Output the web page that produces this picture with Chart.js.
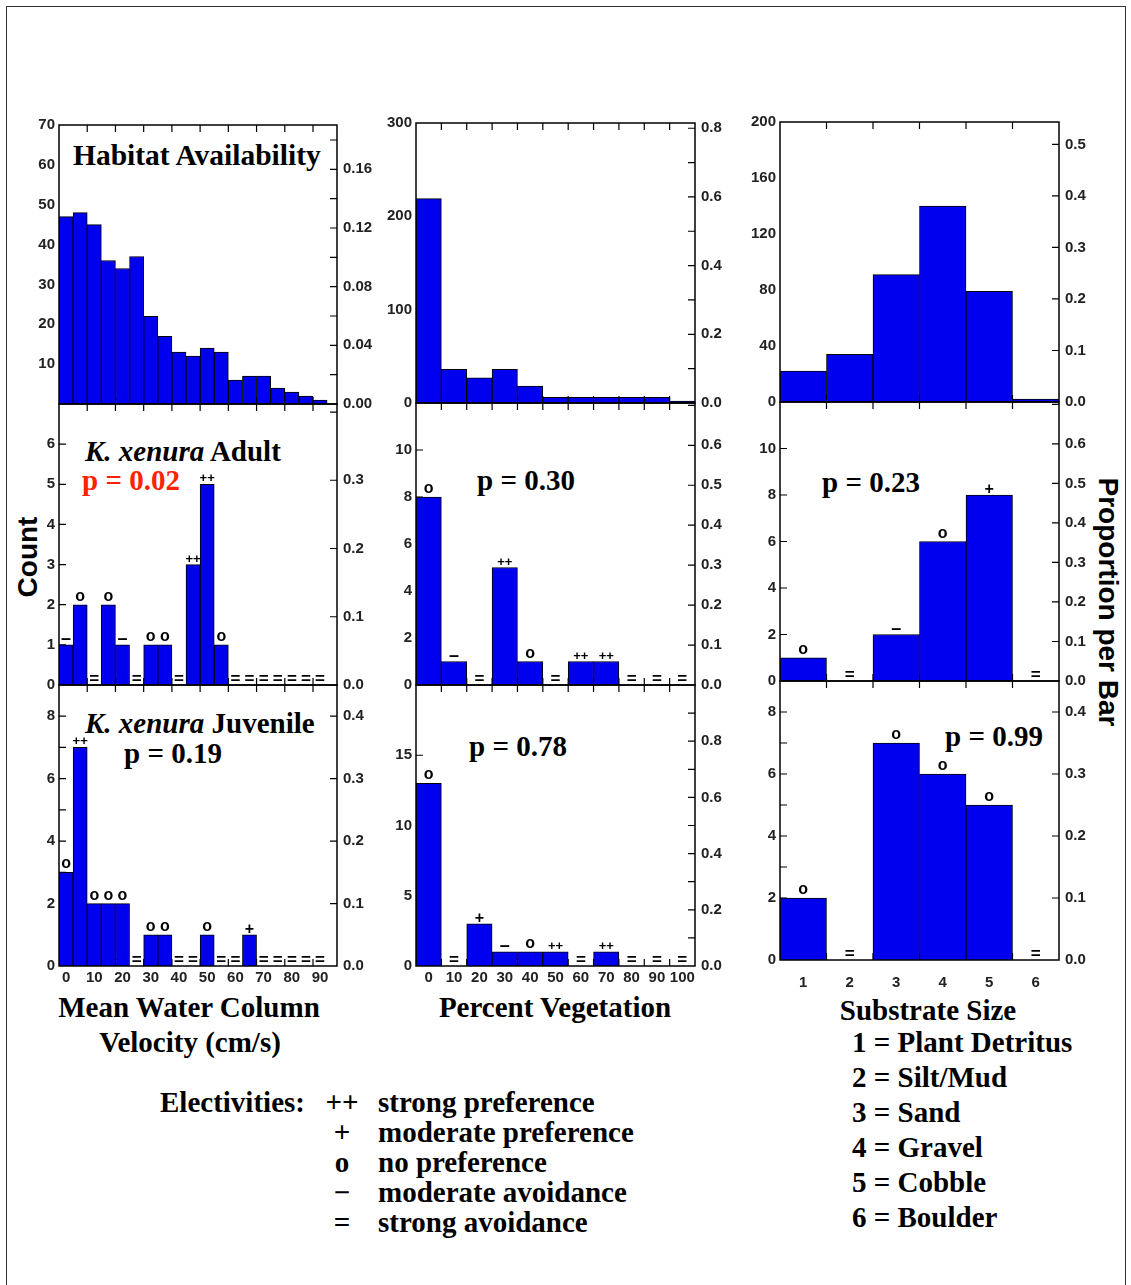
<!DOCTYPE html>
<html>
<head>
<meta charset="utf-8">
<title>Habitat availability and use</title>
<script src="https://cdn.jsdelivr.net/npm/chart.js@4.4.1/dist/chart.umd.min.js"></script>
<style>
  body { margin: 0; background: #fff; }
  #figure { position: relative; width: 1131px; height: 1285px; overflow: hidden; background: #fff; }
  #figure canvas { position: absolute; }
  .border { position: absolute; left: 6px; top: 6px; width: 1120px; height: 1320px; border: 1.5px solid #333; box-sizing: border-box; }
  .t { position: absolute; white-space: nowrap; font: bold 29px "Liberation Serif", "Times New Roman", serif; line-height: 1; color: #000; transform: translate(0, -50%); }
  .c { transform: translate(-50%, -50%); }
  .sans { font-family: "Liberation Sans", Arial, sans-serif; font-size: 28px; }
</style>
</head>
<body>
<div id="figure">
  <div class="border"></div>

  <div class="t" style="left:73px; top:156px; font-size:29.5px">Habitat Availability</div>
  <div class="t" style="left:85px; top:451px"><i>K. xenura</i> Adult</div>
  <div class="t" style="left:82px; top:480px; color:#ff2200">p = 0.02</div>
  <div class="t" style="left:85px; top:723px"><i>K. xenura</i> Juvenile</div>
  <div class="t" style="left:124px; top:753px">p = 0.19</div>
  <div class="t" style="left:477px; top:480px">p = 0.30</div>
  <div class="t" style="left:469px; top:746px">p = 0.78</div>
  <div class="t" style="left:822px; top:482px">p = 0.23</div>
  <div class="t" style="left:945px; top:736px">p = 0.99</div>

  <div class="t c sans" style="left:28px; top:557px; transform:translate(-50%,-50%) rotate(-90deg)">Count</div>
  <div class="t c sans" style="left:1108px; top:602px; transform:translate(-50%,-50%) rotate(90deg)">Proportion per Bar</div>

  <div class="t c" style="left:189px; top:1007px">Mean Water Column</div>
  <div class="t c" style="left:190px; top:1042px">Velocity (cm/s)</div>
  <div class="t c" style="left:555px; top:1007px">Percent Vegetation</div>
  <div class="t c" style="left:928px; top:1010px">Substrate Size</div>

  <div class="t" style="left:160px; top:1102px">Electivities:</div>
</div>

<script>
// bins (bar centres) and the tick labels under the bottom row
const velocityBins = [0, 5, 10, 15, 20, 25, 30, 35, 40, 45, 50, 55, 60, 65, 70, 75, 80, 85, 90];
const velocityLabels = [0, 10, 20, 30, 40, 50, 60, 70, 80, 90];
const velocityEdges = [7.5, 17.5, 27.5, 37.5, 47.5, 57.5, 67.5, 77.5, 87.5];

const vegetationBins = [0, 10, 20, 30, 40, 50, 60, 70, 80, 90, 100];
const vegetationLabels = [0, 10, 20, 30, 40, 50, 60, 70, 80, 90, 100];
const vegetationEdges = [5, 15, 25, 35, 45, 55, 65, 75, 85, 95];

const substrateBins = [1, 2, 3, 4, 5, 6];
const substrateLabels = [1, 2, 3, 4, 5, 6];
const substrateEdges = [1.5, 2.5, 3.5, 4.5, 5.5];

// counts per bin
const habitatVelocity = [47, 48, 45, 36, 34, 37, 22, 17, 13, 12, 14, 13, 6, 7, 7, 4, 3, 2, 1];
const adultVelocity = [1, 2, 0, 2, 1, 0, 1, 1, 0, 3, 5, 1, 0, 0, 0, 0, 0, 0, 0];
const juvenileVelocity = [3, 7, 2, 2, 2, 0, 1, 1, 0, 0, 1, 0, 0, 1, 0, 0, 0, 0, 0];

const habitatVegetation = [219, 36, 27, 36, 18, 6, 6, 6, 6, 6, 2];
const adultVegetation = [8, 1, 0, 5, 1, 0, 1, 1, 0, 0, 0];
const juvenileVegetation = [13, 0, 3, 1, 1, 1, 0, 1, 0, 0, 0];

const habitatSubstrate = [22, 34, 91, 140, 79, 2];
const adultSubstrate = [1, 0, 2, 6, 8, 0];
const juvenileSubstrate = [2, 0, 7, 6, 5, 0];

// electivity per bin: ++ strong pref, + moderate pref, o none, - moderate avoid, = strong avoid
const adultVelocityElect = ['-', 'o', '=', 'o', '-', '=', 'o', 'o', '=', '++', '++', 'o', '=', '=', '=', '=', '=', '=', '='];
const juvenileVelocityElect = ['o', '++', 'o', 'o', 'o', '=', 'o', 'o', '=', '=', 'o', '=', '=', '+', '=', '=', '=', '=', '='];
const adultVegetationElect = ['o', '-', '=', '++', 'o', '=', '++', '++', '=', '=', '='];
const juvenileVegetationElect = ['o', '=', '+', '-', 'o', '++', '=', '++', '=', '=', '='];
const adultSubstrateElect = ['o', '=', '-', 'o', '+', '='];
const juvenileSubstrateElect = ['o', '=', 'o', 'o', 'o', '='];

// legend texts
const substrateNames = ['Plant Detritus', 'Silt/Mud', 'Sand', 'Gravel', 'Cobble', 'Boulder'];
const electivityCodes = ['++', '+', 'o', '\u2212', '='];
const electivityMeanings = ['strong preference', 'moderate preference', 'no preference', 'moderate avoidance', 'strong avoidance'];

const SIDE = 55;      // room for the tick labels left and right of a frame
const TOP = 15;
const BOTTOM = 36;
const TICK_LEN = 7;
const BAR_BLUE = '#0000ee';
const TICK_FONT = { family: '"Liberation Sans", Arial, sans-serif', weight: 'bold', size: 15 };
const TICK_COLOR = '#222';

// glyph, font size and lift above the bar top for each electivity code
const glyphs = {
    '++': { text: '++', size: 13, lift: 2 },
    '+': { text: '+', size: 16, lift: 1 },
    'o': { text: 'o', size: 16, lift: 4 },
    '-': { text: '\u2013', size: 18, lift: 1 },
    '=': { text: '=', size: 17, lift: 1 }
};

const panels = [
    // habitat row
    { frame: [59, 125, 337, 404], bins: velocityBins, counts: habitatVelocity, elect: null,
      xRange: [-2.5, 96], xMarks: velocityEdges, xLabels: velocityLabels, showX: false, xPad: 3,
      yMax: 70, yLabels: [10, 20, 30, 40, 50, 60, 70], yMarks: [],
      y2Labels: [0, 0.04, 0.08, 0.12, 0.16], y2Marks: [0.02, 0.04, 0.06, 0.08, 0.1, 0.12, 0.14, 0.16, 0.18], y2Digits: 2 },
    { frame: [416, 123, 695, 403], bins: vegetationBins, counts: habitatVegetation, elect: null,
      xRange: [-5, 105], xMarks: vegetationEdges, xLabels: vegetationLabels, showX: false, xPad: 3,
      yMax: 300, yLabels: [0, 100, 200, 300], yMarks: [],
      y2Labels: [0, 0.2, 0.4, 0.6, 0.8], y2Marks: [0.1, 0.2, 0.3, 0.4, 0.5, 0.6, 0.7, 0.8], y2Digits: 1 },
    { frame: [780, 122, 1059, 402], bins: substrateBins, counts: habitatSubstrate, elect: null,
      xRange: [0.5, 6.5], xMarks: substrateEdges, xLabels: substrateLabels, showX: false, xPad: 14,
      yMax: 200, yLabels: [0, 40, 80, 120, 160, 200], yMarks: [],
      y2Labels: [0, 0.1, 0.2, 0.3, 0.4, 0.5], y2Marks: [0.1, 0.2, 0.3, 0.4, 0.5], y2Digits: 1 },
    // adult row
    { frame: [59, 404, 337, 685], bins: velocityBins, counts: adultVelocity, elect: adultVelocityElect,
      xRange: [-2.5, 96], xMarks: velocityEdges, xLabels: velocityLabels, showX: false, xPad: 3,
      yMax: 7, yLabels: [0, 1, 2, 3, 4, 5, 6], yMarks: [1, 2, 3, 4, 5, 6],
      y2Labels: [0, 0.1, 0.2, 0.3], y2Marks: [0.1, 0.2, 0.3, 0.4], y2Digits: 1 },
    { frame: [416, 403, 695, 685], bins: vegetationBins, counts: adultVegetation, elect: adultVegetationElect,
      xRange: [-5, 105], xMarks: vegetationEdges, xLabels: vegetationLabels, showX: false, xPad: 3,
      yMax: 12, yLabels: [0, 2, 4, 6, 8, 10], yMarks: [2, 4, 6, 8, 10],
      y2Labels: [0, 0.1, 0.2, 0.3, 0.4, 0.5, 0.6], y2Marks: [0.1, 0.2, 0.3, 0.4, 0.5, 0.6, 0.7], y2Digits: 1 },
    { frame: [780, 402, 1059, 681], bins: substrateBins, counts: adultSubstrate, elect: adultSubstrateElect,
      xRange: [0.5, 6.5], xMarks: substrateEdges, xLabels: substrateLabels, showX: false, xPad: 14,
      yMax: 12, yLabels: [0, 2, 4, 6, 8, 10], yMarks: [2, 4, 6, 8, 10],
      y2Labels: [0, 0.1, 0.2, 0.3, 0.4, 0.5, 0.6], y2Marks: [0.1, 0.2, 0.3, 0.4, 0.5, 0.6, 0.7], y2Digits: 1 },
    // juvenile row
    { frame: [59, 685, 337, 966], bins: velocityBins, counts: juvenileVelocity, elect: juvenileVelocityElect,
      xRange: [-2.5, 96], xMarks: velocityEdges, xLabels: velocityLabels, showX: true, xPad: 3,
      yMax: 9, yLabels: [0, 2, 4, 6, 8], yMarks: [1, 2, 3, 4, 5, 6, 7, 8],
      y2Labels: [0, 0.1, 0.2, 0.3, 0.4], y2Marks: [0.1, 0.2, 0.3, 0.4], y2Digits: 1 },
    { frame: [416, 685, 695, 966], bins: vegetationBins, counts: juvenileVegetation, elect: juvenileVegetationElect,
      xRange: [-5, 105], xMarks: vegetationEdges, xLabels: vegetationLabels, showX: true, xPad: 3,
      yMax: 20, yLabels: [0, 5, 10, 15], yMarks: [5, 10, 15],
      y2Labels: [0, 0.2, 0.4, 0.6, 0.8], y2Marks: [0.1, 0.2, 0.3, 0.4, 0.5, 0.6, 0.7, 0.8, 0.9], y2Digits: 1 },
    { frame: [780, 681, 1059, 960], bins: substrateBins, counts: juvenileSubstrate, elect: juvenileSubstrateElect,
      xRange: [0.5, 6.5], xMarks: substrateEdges, xLabels: substrateLabels, showX: true, xPad: 14,
      yMax: 9, yLabels: [0, 2, 4, 6, 8], yMarks: [1, 2, 3, 4, 5, 6, 7, 8],
      y2Labels: [0, 0.1, 0.2, 0.3, 0.4], y2Marks: [0.1, 0.2, 0.3, 0.4], y2Digits: 1 }
];

// Inward tick marks, the box round the plot and the electivity symbols
function framePlugin(p) {
    return {
        id: 'frame',
        beforeDatasetsDraw(chart) {
            const { ctx, chartArea: a } = chart;
            const { x, y, y2 } = chart.scales;
            ctx.save();
            ctx.strokeStyle = '#000';
            ctx.lineWidth = 1.2;
            ctx.beginPath();
            p.xMarks.forEach(v => {
                const px = x.getPixelForValue(v);
                ctx.moveTo(px, a.top); ctx.lineTo(px, a.top + TICK_LEN);
                ctx.moveTo(px, a.bottom); ctx.lineTo(px, a.bottom - TICK_LEN);
            });
            p.yMarks.forEach(v => {
                const py = y.getPixelForValue(v);
                ctx.moveTo(a.left, py); ctx.lineTo(a.left + TICK_LEN, py);
            });
            p.y2Marks.forEach(v => {
                const py = y2.getPixelForValue(v);
                ctx.moveTo(a.right, py); ctx.lineTo(a.right - TICK_LEN, py);
            });
            ctx.stroke();
            ctx.restore();
        },
        afterDatasetsDraw(chart) {
            const { ctx, chartArea: a } = chart;
            const { x, y } = chart.scales;
            ctx.save();
            if (p.elect) {
                ctx.fillStyle = '#000';
                ctx.textAlign = 'center';
                ctx.textBaseline = 'alphabetic';
                p.bins.forEach((b, i) => {
                    const g = glyphs[p.elect[i]];
                    ctx.font = 'bold ' + g.size + 'px "Liberation Sans", Arial, sans-serif';
                    ctx.fillText(g.text, x.getPixelForValue(b), y.getPixelForValue(p.counts[i]) - g.lift);
                });
            }
            ctx.strokeStyle = '#000';
            ctx.lineWidth = 1.5;
            ctx.strokeRect(a.left, a.top, a.right - a.left, a.bottom - a.top);
            ctx.restore();
        }
    };
}

function drawPanel(p) {
    const [left, top, right, bottom] = p.frame;
    const canvas = document.createElement('canvas');
    canvas.width = right - left + 2 * SIDE;
    canvas.height = bottom - top + TOP + BOTTOM;
    canvas.style.left = (left - SIDE) + 'px';
    canvas.style.top = (top - TOP) + 'px';
    document.getElementById('figure').appendChild(canvas);

    const total = p.counts.reduce((sum, v) => sum + v, 0);
    const hidden = { display: false, drawTicks: false };

    new Chart(canvas, {
        type: 'bar',
        data: {
            datasets: [{
                data: p.bins.map((b, i) => ({ x: b, y: p.counts[i] })),
                backgroundColor: BAR_BLUE,
                borderColor: '#000',
                borderWidth: 1,
                barPercentage: 1,
                categoryPercentage: 1
            }]
        },
        options: {
            responsive: false,
            animation: false,
            layout: { padding: { top: TOP, left: 0, right: 0, bottom: 0 } },
            plugins: { legend: { display: false }, tooltip: { enabled: false } },
            scales: {
                x: {
                    type: 'linear',
                    offset: false,
                    min: p.xRange[0],
                    max: p.xRange[1],
                    grid: hidden,
                    border: { display: false },
                    afterBuildTicks: s => { s.ticks = p.xLabels.map(v => ({ value: v })); },
                    afterFit: s => { s.height = BOTTOM; },
                    ticks: { display: p.showX, font: TICK_FONT, color: TICK_COLOR, padding: p.xPad,
                             maxRotation: 0, autoSkip: false, callback: v => String(v) }
                },
                y: {
                    min: 0,
                    max: p.yMax,
                    grid: hidden,
                    border: { display: false },
                    afterBuildTicks: s => { s.ticks = p.yLabels.map(v => ({ value: v })); },
                    afterFit: s => { s.width = SIDE; },
                    ticks: { font: TICK_FONT, color: TICK_COLOR, padding: 4, callback: v => String(v) }
                },
                y2: {
                    position: 'right',
                    min: 0,
                    max: p.yMax / total,
                    grid: hidden,
                    border: { display: false },
                    afterBuildTicks: s => { s.ticks = p.y2Labels.map(v => ({ value: v })); },
                    afterFit: s => { s.width = SIDE; },
                    ticks: { font: TICK_FONT, color: TICK_COLOR, padding: 6, callback: v => v.toFixed(p.y2Digits) }
                }
            }
        },
        plugins: [framePlugin(p)]
    });
}

function addText(text, x, y) {
    const el = document.createElement('div');
    el.className = 't';
    el.style.left = x + 'px';
    el.style.top = y + 'px';
    el.textContent = text;
    document.getElementById('figure').appendChild(el);
    return el;
}

// legends below the plots
function drawLegends() {
    substrateNames.forEach((name, i) => addText((i + 1) + ' = ' + name, 852, 1042 + i * 35));
    electivityCodes.forEach((code, i) => {
        const el = addText(code, 342, 1102 + i * 30);
        el.classList.add('c');
        addText(electivityMeanings[i], 378, 1102 + i * 30);
    });
}

panels.forEach(drawPanel);
drawLegends();
</script>
</body>
</html>
